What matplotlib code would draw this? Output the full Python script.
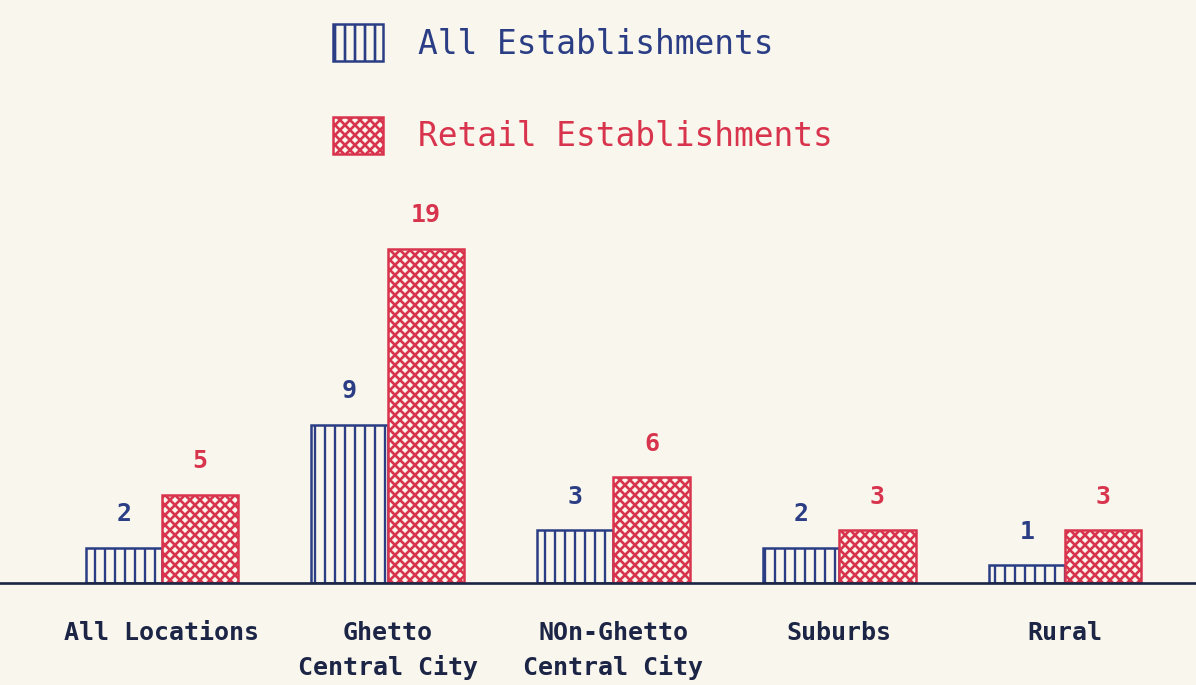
import matplotlib
matplotlib.use("Agg")
import matplotlib.pyplot as plt
import numpy as np

categories = ["All Locations", "Ghetto\nCentral City", "NOn-Ghetto\nCentral City", "Suburbs", "Rural"]
all_est = [2, 9, 3, 2, 1]
retail_est = [5, 19, 6, 3, 3]
series_names = ["All Establishments", "Retail Establishments"]

bg = "#f9f7ed"
blue = "#2b3d85"
red = "#d9344d"

dpi = 120
fig = plt.figure(figsize=(1196 / dpi, 685 / dpi), dpi=dpi, facecolor=bg)
ax = fig.add_axes([0, 102 / 685, 1, 583 / 685])
ax.set_facecolor(bg)

x = np.arange(len(categories))
w = 0.338

plt.rcParams["hatch.linewidth"] = 1.4
b1 = ax.bar(x - w / 2, all_est, w, facecolor=bg, edgecolor=blue, hatch="||",
            linewidth=1.5, label=series_names[0])
plt.rcParams["hatch.linewidth"] = 1.6
b2 = ax.bar(x + w / 2, retail_est, w, facecolor=bg, edgecolor=red, hatch="xxxx",
            linewidth=1.5, label=series_names[1])

ax.bar_label(b1, padding=13, color=blue, fontsize=15, fontweight="bold",
             family="DejaVu Sans Mono")
ax.bar_label(b2, padding=13, color=red, fontsize=15, fontweight="bold",
             family="DejaVu Sans Mono")

ax.axhline(0, color="#1c2545", lw=1.6, clip_on=False, zorder=3)

ax.set_xlim(-0.717, 4.58)
ax.set_ylim(0, 583 / 17.6)
ax.set_xticks(x)
ax.set_xticklabels(categories, fontsize=15, fontweight="bold",
                   family="DejaVu Sans Mono", color="#1c2545", linespacing=1.5)
ax.tick_params(axis="x", length=0, pad=23)
ax.set_yticks([])
for s in ax.spines.values():
    s.set_visible(False)

leg = fig.legend(handles=[b1, b2], labels=series_names, loc="upper left",
                 bbox_to_anchor=(333 / 1196, 1 - 24 / 685), frameon=False,
                 prop={"family": "DejaVu Sans Mono", "size": 19.7},
                 handlelength=1.52, handleheight=1.38, handletextpad=1.07,
                 labelspacing=1.68, borderpad=0, borderaxespad=0,
                 labelcolor=[blue, red])

fig.savefig("out.png", dpi=dpi, facecolor=bg)
